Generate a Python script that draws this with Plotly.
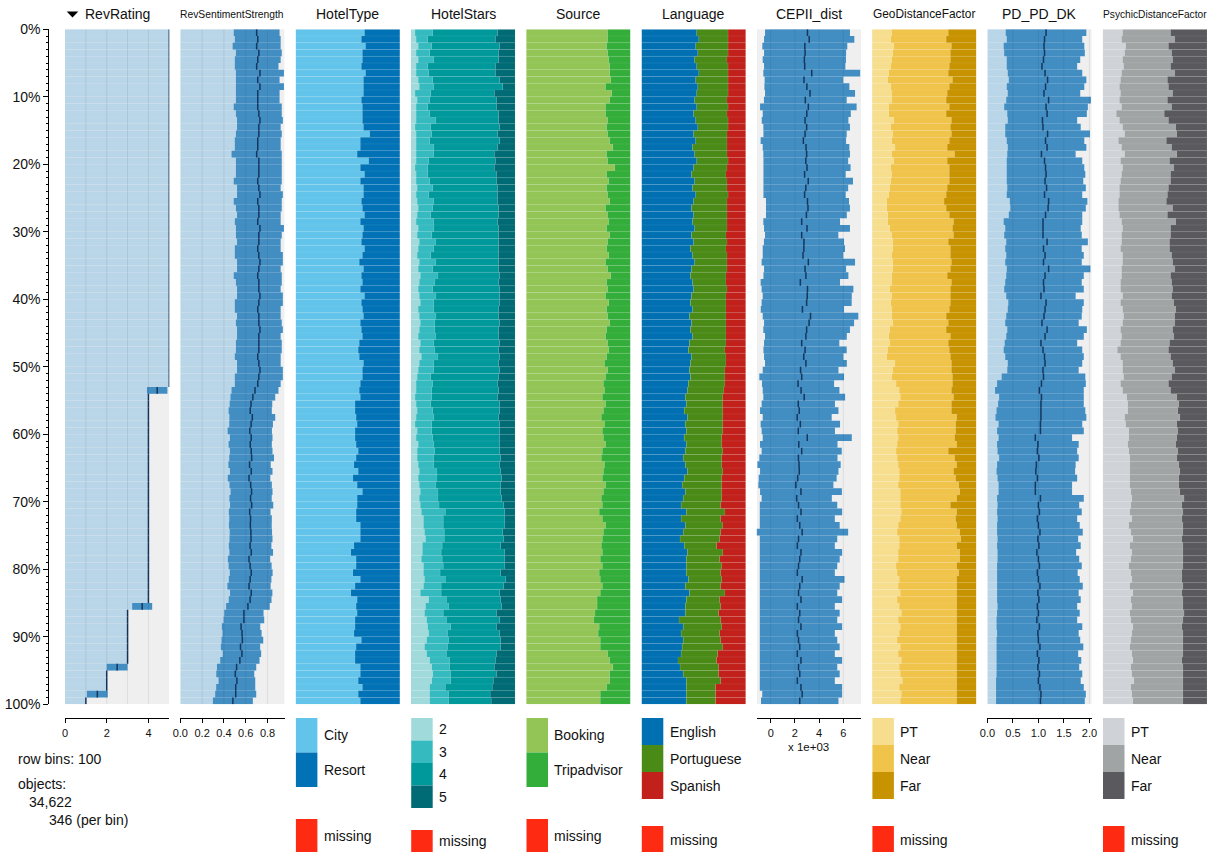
import plotly.graph_objects as go

W, H = 1211, 852
NBINS = 100

# ---------------- data (per row bin, top = 0%) ----------------
rev_rating_mean = [
    5.0, 5.0, 5.0, 5.0, 5.0, 5.0, 5.0, 5.0, 5.0, 5.0,
    5.0, 5.0, 5.0, 5.0, 5.0, 5.0, 5.0, 5.0, 5.0, 5.0,
    5.0, 5.0, 5.0, 5.0, 5.0, 5.0, 5.0, 5.0, 5.0, 5.0,
    5.0, 5.0, 5.0, 5.0, 5.0, 5.0, 5.0, 5.0, 5.0, 5.0,
    5.0, 5.0, 5.0, 5.0, 5.0, 5.0, 5.0, 5.0, 5.0, 5.0,
    5.0, 5.0, 5.0, 4.42, 4.0, 4.0, 4.0, 4.0, 4.0, 4.0,
    4.0, 4.0, 4.0, 4.0, 4.0, 4.0, 4.0, 4.0, 4.0, 4.0,
    4.0, 4.0, 4.0, 4.0, 4.0, 4.0, 4.0, 4.0, 4.0, 4.0,
    4.0, 4.0, 4.0, 4.0, 4.0, 3.7, 3.0, 3.0, 3.0, 3.0,
    3.0, 3.0, 3.0, 3.0, 2.5, 2.0, 2.0, 2.0, 1.55, 1.0]
rev_rating_sd = [
    0, 0, 0, 0, 0, 0, 0, 0, 0, 0,
    0, 0, 0, 0, 0, 0, 0, 0, 0, 0,
    0, 0, 0, 0, 0, 0, 0, 0, 0, 0,
    0, 0, 0, 0, 0, 0, 0, 0, 0, 0,
    0, 0, 0, 0, 0, 0, 0, 0, 0, 0,
    0, 0, 0, 0.49, 0, 0, 0, 0, 0, 0,
    0, 0, 0, 0, 0, 0, 0, 0, 0, 0,
    0, 0, 0, 0, 0, 0, 0, 0, 0, 0,
    0, 0, 0, 0, 0, 0.48, 0, 0, 0, 0,
    0, 0, 0, 0, 0.5, 0, 0, 0, 0.5, 0]

sent_mean = [
    0.70, 0.71, 0.70, 0.72, 0.71, 0.70, 0.73, 0.71, 0.73, 0.71,
    0.71, 0.71, 0.72, 0.73, 0.72, 0.72, 0.71, 0.71, 0.70, 0.72,
    0.72, 0.72, 0.71, 0.72, 0.73, 0.71, 0.72, 0.72, 0.71, 0.73,
    0.72, 0.72, 0.71, 0.72, 0.73, 0.72, 0.71, 0.72, 0.72, 0.73,
    0.72, 0.71, 0.72, 0.72, 0.73, 0.72, 0.72, 0.72, 0.71, 0.72,
    0.73, 0.72, 0.71, 0.685, 0.665, 0.648, 0.641, 0.66, 0.649, 0.637,
    0.65, 0.641, 0.65, 0.654, 0.635, 0.65, 0.63, 0.645, 0.653, 0.644,
    0.654, 0.636, 0.644, 0.642, 0.647, 0.648, 0.64, 0.65, 0.63, 0.64,
    0.65, 0.64, 0.63, 0.65, 0.64, 0.62, 0.583, 0.583, 0.557, 0.566,
    0.569, 0.552, 0.565, 0.546, 0.516, 0.504, 0.519, 0.508, 0.508, 0.482]
sent_sd = [
    0.21, 0.21, 0.22, 0.21, 0.21, 0.20, 0.22, 0.20, 0.22, 0.20,
    0.20, 0.22, 0.21, 0.21, 0.20, 0.21, 0.21, 0.21, 0.23, 0.21,
    0.21, 0.21, 0.22, 0.20, 0.21, 0.22, 0.21, 0.20, 0.21, 0.22,
    0.21, 0.20, 0.21, 0.22, 0.21, 0.20, 0.22, 0.21, 0.20, 0.21,
    0.22, 0.21, 0.20, 0.21, 0.21, 0.20, 0.21, 0.21, 0.21, 0.20,
    0.21, 0.22, 0.21, 0.215, 0.205, 0.195, 0.198, 0.21, 0.20, 0.203,
    0.195, 0.198, 0.195, 0.205, 0.194, 0.195, 0.195, 0.194, 0.192, 0.194,
    0.198, 0.191, 0.195, 0.196, 0.194, 0.197, 0.195, 0.20, 0.194, 0.197,
    0.196, 0.195, 0.198, 0.194, 0.196, 0.20, 0.18, 0.186, 0.176, 0.179,
    0.191, 0.18, 0.176, 0.18, 0.18, 0.174, 0.168, 0.179, 0.188, 0.183]

# HotelType shares (%)
type_city = [
    66, 63, 67, 64, 64, 63, 67, 65, 65, 65,
    63, 64, 64, 64, 65, 71, 62, 62, 59, 70,
    62, 66, 62, 65, 65, 63, 64, 66, 62, 65,
    64, 63, 66, 64, 61, 65, 63, 64, 62, 66,
    63, 64, 65, 62, 63, 64, 61, 60, 61, 65,
    64, 64, 62, 61, 62, 57, 57, 58, 59, 57,
    57, 58, 60, 58, 56, 60, 55, 59, 64, 59,
    59, 58, 58, 62, 62, 62, 56, 53, 58, 58,
    55, 62, 57, 53, 59, 58, 59, 57, 57, 56,
    63, 58, 57, 57, 62, 62, 60, 64, 60, 62]

# HotelStars shares (%); 5 stars = remainder
stars_2 = [
    4, 5, 7, 5, 7, 5, 5, 7, 8, 4,
    6, 5, 5, 5, 4, 5, 5, 5, 5, 5,
    4, 5, 5, 6, 5, 6, 7, 6, 5, 7,
    6, 8, 7, 6, 8, 7, 9, 8, 7, 8,
    9, 7, 8, 9, 8, 7, 9, 8, 10, 8,
    7, 6, 5, 5, 4, 5, 6, 5, 4, 6,
    5, 7, 6, 6, 7, 8, 7, 8, 9, 8,
    9, 10, 12, 12, 13, 14, 11, 11, 10, 12,
    12, 13, 12, 9, 17, 14, 13, 15, 16, 17,
    15, 13, 15, 18, 20, 21, 20, 18, 18, 18]
stars_3 = [
    17, 11, 13, 13, 15, 11, 12, 14, 14, 15,
    12, 11, 13, 19, 15, 15, 13, 17, 17, 12,
    12, 11, 13, 15, 12, 16, 14, 13, 17, 15,
    14, 16, 15, 13, 16, 14, 17, 15, 14, 16,
    13, 15, 16, 14, 15, 17, 13, 15, 16, 14,
    15, 13, 16, 15, 16, 14, 15, 17, 16, 14,
    16, 15, 17, 16, 15, 17, 18, 16, 17, 18,
    18, 23, 19, 19, 19, 18, 19, 18, 20, 19,
    16, 20, 17, 20, 17, 22, 18, 19, 22, 18,
    21, 22, 19, 19, 17, 17, 18, 15, 18, 18]
stars_4 = [
    62, 65, 65, 66, 62, 65, 64, 64, 66, 61,
    64, 66, 66, 60, 66, 63, 67, 61, 58, 64,
    64, 66, 64, 62, 66, 61, 63, 65, 61, 62,
    64, 60, 62, 65, 60, 63, 59, 61, 64, 61,
    63, 62, 60, 62, 61, 60, 63, 61, 59, 62,
    63, 65, 62, 64, 63, 66, 64, 62, 65, 65,
    64, 63, 62, 64, 63, 61, 62, 62, 60, 61,
    62, 57, 59, 59, 56, 57, 56, 61, 60, 59,
    58, 58, 60, 56, 52, 51, 51, 51, 44, 50,
    50, 51, 48, 44, 43, 44, 41, 45, 40, 41]

# Source shares (%); Tripadvisor = remainder
source_booking = [
    78, 78, 77, 78, 79, 80, 80, 81, 76, 82,
    80, 76, 76, 78, 77, 78, 80, 83, 77, 78,
    85, 77, 79, 77, 78, 80, 76, 78, 79, 77,
    80, 78, 77, 79, 76, 78, 81, 77, 78, 76,
    79, 77, 78, 80, 77, 76, 78, 79, 77, 75,
    78, 76, 74, 75, 73, 76, 74, 72, 75, 73,
    74, 76, 73, 72, 75, 74, 73, 76, 74, 72,
    73, 70, 73, 76, 74, 73, 72, 73, 71, 73,
    70, 71, 73, 71, 68, 68, 66, 65, 70, 69,
    71, 71, 78, 80, 83, 80, 80, 77, 71, 71]

# Language shares (%); Spanish = remainder
lang_english = [
    53, 55, 52, 54, 51, 53, 55, 52, 54, 53,
    51, 53, 50, 52, 54, 50, 52, 49, 51, 53,
    50, 48, 51, 49, 52, 50, 48, 50, 49, 51,
    48, 50, 47, 49, 51, 48, 47, 49, 50, 48,
    47, 49, 46, 48, 47, 49, 46, 45, 48, 47,
    46, 47, 45, 44, 42, 43, 41, 44, 42, 43,
    41, 43, 42, 40, 42, 44, 41, 39, 42, 40,
    38, 43, 38, 42, 40, 37, 41, 44, 43, 43,
    43, 45, 42, 46, 43, 42, 42, 36, 40, 38,
    40, 39, 38, 35, 37, 40, 43, 43, 43, 43]
lang_portuguese = [
    30, 28, 31, 29, 31, 30, 28, 31, 29, 30,
    31, 30, 32, 31, 29, 32, 30, 33, 31, 30,
    32, 33, 31, 33, 31, 32, 34, 32, 33, 31,
    33, 32, 34, 33, 31, 34, 34, 32, 32, 33,
    34, 32, 35, 33, 34, 32, 35, 35, 33, 34,
    34, 33, 35, 35, 36, 35, 37, 34, 36, 35,
    36, 34, 36, 37, 35, 34, 36, 38, 35, 37,
    38, 37, 38, 36, 36, 38, 31, 34, 32, 34,
    33, 32, 34, 34, 32, 34, 32, 40, 37, 37,
    36, 39, 35, 37, 37, 34, 33, 28, 28, 28]

# CEPII_dist (thousands)
cepii_mean_k = [
    3.04, 3.18, 2.82, 2.84, 2.78, 2.81, 3.39, 2.75, 2.99, 3.25,
    2.86, 3.11, 2.98, 2.84, 2.97, 2.84, 2.70, 2.92, 2.97, 2.90,
    3.00, 2.80, 3.10, 2.90, 2.80, 3.04, 3.08, 2.95, 2.56, 3.00,
    2.56, 2.75, 2.74, 2.67, 3.11, 2.84, 2.91, 2.45, 3.04, 3.02,
    2.97, 2.62, 3.29, 3.17, 2.97, 2.91, 2.56, 2.84, 2.73, 2.91,
    2.47, 2.56, 2.26, 2.51, 2.77, 2.28, 2.36, 2.19, 2.45, 2.28,
    3.02, 2.32, 2.56, 2.29, 2.34, 2.36, 2.23, 2.08, 2.50, 2.15,
    2.30, 2.50, 2.20, 2.40, 2.60, 2.30, 2.20, 2.50, 2.40, 2.30,
    2.20, 2.60, 2.40, 2.30, 2.50, 2.20, 2.40, 2.30, 2.50, 2.20,
    2.30, 2.40, 2.20, 2.50, 2.30, 2.40, 2.20, 2.50, 2.60, 2.40]
cepii_sd_k = [
    3.51, 3.73, 3.51, 3.39, 3.44, 3.36, 4.00, 3.25, 3.51, 3.72,
    3.42, 3.99, 3.64, 3.58, 3.58, 3.44, 3.53, 3.58, 3.58, 3.50,
    3.60, 3.40, 3.70, 3.50, 3.40, 3.43, 3.47, 3.34, 3.17, 3.55,
    3.03, 3.31, 3.40, 3.33, 3.86, 3.39, 3.51, 3.28, 3.79, 3.68,
    3.72, 3.44, 3.95, 3.72, 3.58, 3.38, 3.11, 3.44, 3.28, 3.38,
    3.13, 3.50, 2.98, 3.17, 3.38, 3.03, 3.24, 2.85, 3.28, 3.03,
    3.68, 3.20, 3.31, 3.23, 3.44, 3.24, 3.22, 3.10, 3.38, 2.90,
    3.20, 3.40, 3.10, 3.30, 3.80, 3.20, 3.10, 3.40, 3.30, 3.20,
    3.10, 3.50, 3.30, 3.20, 3.40, 3.10, 3.30, 3.20, 3.40, 3.10,
    3.20, 3.30, 3.10, 3.40, 3.20, 3.30, 3.10, 3.40, 3.30, 3.20]

# GeoDistanceFactor shares (%); Far = remainder
geo_pt = [
    19, 18, 21, 20, 19, 18, 16, 15, 18, 19,
    19, 16, 16, 21, 18, 20, 19, 22, 19, 21,
    18, 19, 18, 17, 16, 14, 14, 15, 15, 17,
    19, 20, 20, 19, 20, 20, 19, 19, 17, 19,
    18, 19, 19, 20, 17, 16, 17, 15, 14, 22,
    20, 19, 23, 26, 27, 25, 22, 23, 25, 24,
    25, 24, 23, 24, 25, 26, 26, 25, 27, 27,
    27, 28, 27, 25, 24, 26, 26, 25, 25, 23,
    24, 26, 25, 27, 24, 26, 28, 25, 27, 26,
    24, 27, 25, 28, 26, 27, 29, 26, 28, 27]
geo_near = [
    54, 53, 55, 55, 56, 56, 57, 62, 56, 53,
    52, 58, 55, 55, 57, 56, 55, 50, 60, 51,
    56, 55, 56, 55, 55, 55, 57, 59, 63, 60,
    59, 53, 55, 56, 56, 55, 53, 57, 58, 56,
    57, 55, 52, 53, 54, 59, 56, 59, 61, 54,
    56, 58, 54, 50, 51, 51, 54, 58, 55, 56,
    54, 57, 50, 55, 56, 52, 54, 58, 57, 54,
    48, 53, 53, 56, 60, 59, 55, 59, 59, 58,
    59, 55, 56, 54, 57, 55, 53, 56, 54, 55,
    57, 54, 56, 53, 55, 54, 52, 55, 53, 54]

# PD_PD_DK
pd_mean = [
    1.15, 1.12, 1.11, 1.12, 1.10, 1.07, 1.13, 1.18, 1.14, 1.11,
    1.20, 1.15, 1.17, 1.08, 1.09, 1.18, 1.14, 1.17, 1.06, 1.12,
    1.14, 1.15, 1.13, 1.16, 1.12, 1.20, 1.19, 1.14, 1.09, 1.09,
    1.09, 1.17, 1.10, 1.13, 1.10, 1.20, 1.13, 1.10, 1.11, 1.05,
    1.15, 1.13, 1.11, 1.07, 1.17, 1.13, 1.05, 1.09, 1.12, 1.13,
    1.09, 1.10, 1.06, 1.02, 1.06, 1.05, 1.05, 1.05, 1.04, 1.04,
    0.94, 0.99, 0.98, 1.01, 0.96, 0.95, 0.98, 0.94, 0.94, 1.04,
    1.00, 1.02, 0.98, 1.00, 1.03, 0.99, 1.01, 0.97, 1.00, 1.02,
    0.98, 1.00, 1.03, 0.99, 1.01, 0.98, 1.00, 0.97, 1.02, 0.99,
    1.00, 1.03, 0.98, 1.01, 0.99, 1.02, 1.00, 1.03, 1.05, 1.04]
pd_sd = [
    0.79, 0.74, 0.79, 0.79, 0.72, 0.69, 0.73, 0.76, 0.76, 0.71,
    0.83, 0.82, 0.78, 0.68, 0.74, 0.83, 0.76, 0.77, 0.67, 0.74,
    0.76, 0.77, 0.75, 0.77, 0.74, 0.76, 0.74, 0.72, 0.77, 0.74,
    0.76, 0.80, 0.75, 0.76, 0.75, 0.82, 0.76, 0.75, 0.78, 0.68,
    0.74, 0.73, 0.74, 0.72, 0.78, 0.76, 0.71, 0.77, 0.77, 0.73,
    0.70, 0.82, 0.87, 0.87, 0.83, 0.84, 0.87, 0.89, 0.82, 0.85,
    0.72, 0.80, 0.78, 0.78, 0.77, 0.77, 0.78, 0.72, 0.72, 0.85,
    0.80, 0.83, 0.78, 0.81, 0.84, 0.79, 0.82, 0.77, 0.80, 0.83,
    0.79, 0.81, 0.84, 0.80, 0.82, 0.78, 0.81, 0.79, 0.84, 0.80,
    0.82, 0.85, 0.80, 0.83, 0.81, 0.84, 0.83, 0.86, 0.88, 0.87]

# PsychicDistanceFactor shares (%); Far = remainder
psy_pt = [
    19, 18, 22, 21, 19, 20, 18, 17, 16, 17,
    16, 18, 13, 16, 19, 21, 15, 18, 21, 17,
    19, 18, 17, 16, 16, 15, 15, 16, 18, 19,
    18, 18, 17, 19, 19, 18, 18, 17, 17, 19,
    17, 19, 20, 19, 17, 18, 17, 14, 17, 19,
    19, 20, 17, 19, 23, 24, 24, 21, 22, 25,
    25, 24, 25, 26, 26, 26, 26, 26, 27, 28,
    27, 26, 28, 25, 27, 29, 26, 28, 27, 25,
    27, 28, 26, 29, 27, 28, 26, 27, 29, 28,
    27, 26, 28, 29, 27, 28, 30, 27, 28, 29]
psy_near = [
    46, 51, 41, 45, 48, 45, 51, 45, 47, 50,
    46, 48, 46, 47, 51, 50, 46, 48, 50, 47,
    49, 47, 48, 47, 46, 46, 52, 46, 52, 46,
    47, 46, 47, 47, 48, 51, 47, 49, 50, 47,
    51, 51, 49, 50, 50, 50, 47, 49, 48, 48,
    50, 46, 46, 46, 48, 49, 48, 53, 49, 47,
    46, 46, 47, 45, 47, 48, 47, 47, 47, 50,
    49, 51, 48, 52, 50, 47, 51, 49, 50, 52,
    49, 48, 51, 47, 50, 49, 52, 50, 47, 49,
    50, 51, 49, 47, 50, 49, 47, 50, 49, 48]

titles = ["RevRating", "RevSentimentStrength", "HotelType", "HotelStars", "Source",
          "Language", "CEPII_dist", "GeoDistanceFactor", "PD_PD_DK", "PsychicDistanceFactor"]
title_sizes = [14, 10.3, 14, 14, 14, 14, 14, 11.9, 14, 10.2]

for arr in [rev_rating_mean, rev_rating_sd, sent_mean, sent_sd, type_city, stars_2, stars_3,
            stars_4, source_booking, lang_english, lang_portuguese, cepii_mean_k, cepii_sd_k,
            geo_pt, geo_near, pd_mean, pd_sd, psy_pt, psy_near]:
    assert len(arr) == NBINS, len(arr)

# ---------------- styling ----------------
FONT = "Liberation Sans, Arial, Helvetica, sans-serif"
TXT = "#111111"
LIGHT, BAND, MEANC, BG = "#B9D5E8", "#428EC3", "#14365F", "#EFEFEF"
SEP = "rgba(255,255,255,0.12)"
MISSING = "#FF2A12"

TOP, BOT = 29.3, 704.3
X0, PITCH, PW = 65.0, 115.3, 104.3
AXIS_Y = 718.3


def fx(x):
    return x / W


def fy(y):
    return 1 - y / H


lefts = [X0 + PITCH * i for i in range(10)]
centers = [k + 0.5 for k in range(NBINS)]

fig = go.Figure()
shapes, annots, layout = [], [], {}


def axname(i):
    return "x" if i == 0 else "x%d" % (i + 1)


def axkey(i):
    return "xaxis" if i == 0 else "xaxis%d" % (i + 1)


def hbar(i, length, base, color, sep=True):
    fig.add_trace(go.Bar(
        orientation="h", y=centers, x=length, base=base, width=1.0,
        marker=dict(color=color, line=dict(color=SEP, width=0.5 if sep else 0)),
        xaxis=axname(i), yaxis="y", hoverinfo="skip", showlegend=False))


def numeric(i, mean, sd, rng, tickvals, ticktext, grid):
    xa = axname(i)
    shapes.append(dict(type="rect", xref=xa, yref="y", x0=rng[0], x1=rng[1], y0=0, y1=NBINS,
                       fillcolor=BG, line=dict(width=0), layer="below"))
    hbar(i, mean, [0.0] * NBINS, LIGHT)
    hbar(i, [2 * s for s in sd], [m - s for m, s in zip(mean, sd)], BAND, sep=False)
    xs, ys = [], []
    for k, m in enumerate(mean):
        xs += [m, m, None]
        ys += [k, k + 1, None]
    fig.add_trace(go.Scatter(x=xs, y=ys, mode="lines", line=dict(color=MEANC, width=1.5),
                             xaxis=xa, yaxis="y", hoverinfo="skip", showlegend=False))
    for g in grid:
        shapes.append(dict(type="line", xref=xa, yref="y", x0=g, x1=g, y0=0, y1=NBINS,
                           line=dict(color="rgba(0,0,0,0.08)", width=1), layer="above"))
    layout[axkey(i)] = dict(
        domain=[fx(lefts[i]), fx(lefts[i] + PW)], range=rng, anchor="free", position=fy(AXIS_Y),
        showline=True, linecolor="black", linewidth=1, ticks="outside", ticklen=4, tickwidth=1,
        tickcolor="black", tickmode="array", tickvals=tickvals, ticktext=ticktext,
        tickfont=dict(size=11, color=TXT, family=FONT), showgrid=False, zeroline=False,
        fixedrange=True, automargin=False)


def categorical(i, parts, colors, labels, block_h, miss_top):
    base = [0.0] * NBINS
    for part, col in zip(parts, colors):
        hbar(i, part, list(base), col)
        base = [b + p for b, p in zip(base, part)]
    hbar(i, [100 - b for b in base], list(base), colors[-1])
    layout[axkey(i)] = dict(domain=[fx(lefts[i]), fx(lefts[i] + PW)], range=[0, 100],
                            visible=False, fixedrange=True, automargin=False)
    y = 718.0
    for col, lab in zip(colors, labels):
        shapes.append(dict(type="rect", xref="paper", yref="paper",
                           x0=fx(lefts[i] + 0.3), x1=fx(lefts[i] + 21.8),
                           y0=fy(y + block_h), y1=fy(y), fillcolor=col, line=dict(width=0)))
        annots.append(dict(text=lab, x=fx(lefts[i] + 26), y=fy(y + block_h / 2),
                           xref="paper", yref="paper", xanchor="left", yanchor="middle",
                           showarrow=False, font=dict(size=14, color=TXT, family=FONT)))
        y += block_h
    shapes.append(dict(type="rect", xref="paper", yref="paper",
                       x0=fx(lefts[i] + 0.3), x1=fx(lefts[i] + 21.8),
                       y0=fy(miss_top + block_h), y1=fy(miss_top), fillcolor=MISSING,
                       line=dict(width=0)))
    annots.append(dict(text="missing", x=fx(lefts[i] + 26), y=fy(miss_top + block_h / 2),
                       xref="paper", yref="paper", xanchor="left", yanchor="middle",
                       showarrow=False, font=dict(size=14, color=TXT, family=FONT)))


# numeric panels
numeric(0, rev_rating_mean, rev_rating_sd, [0, 5.0], [0, 2, 4], ["0", "2", "4"], [1, 2, 3, 4])
numeric(1, sent_mean, sent_sd, [0, 0.956], [0, 0.2, 0.4, 0.6, 0.8],
        ["0.0", "0.2", "0.4", "0.6", "0.8"], [0.2, 0.4, 0.6, 0.8])
numeric(6, cepii_mean_k, cepii_sd_k, [-1.149, 7.47], [0, 2, 4, 6], ["0", "2", "4", "6"],
        [0, 2, 4, 6])
numeric(8, pd_mean, pd_sd, [0, 2.045], [0, 0.5, 1.0, 1.5, 2.0],
        ["0.0", "0.5", "1.0", "1.5", "2.0"], [0.5, 1.0, 1.5, 2.0])

# categorical panels
categorical(2, [type_city], ["#62C4EA", "#0072B5"], ["City", "Resort"], 34.5, 819)
categorical(3, [stars_2, stars_3, stars_4], ["#A0DADB", "#35BABF", "#00999B", "#006B75"],
            ["2", "3", "4", "5"], 22.5, 830)
categorical(4, [source_booking], ["#92C556", "#34AE3A"], ["Booking", "Tripadvisor"], 34.5, 819)
categorical(5, [lang_english, lang_portuguese], ["#0070B3", "#4A8A17", "#C1201B"],
            ["English", "Portuguese", "Spanish"], 27, 826)
categorical(7, [geo_pt, geo_near], ["#F6DE8E", "#F0C34A", "#C79300"], ["PT", "Near", "Far"], 27, 826)
categorical(9, [psy_pt, psy_near], ["#CFD2D6", "#A0A4A5", "#59595E"], ["PT", "Near", "Far"], 27, 826)

# titles
for i, (t, s) in enumerate(zip(titles, title_sizes)):
    annots.append(dict(text=t, x=fx(lefts[i] + PW / 2), y=fy(14.5), xref="paper", yref="paper",
                       xanchor="center", yanchor="middle", showarrow=False,
                       font=dict(size=s, color=TXT, family=FONT)))
# sort indicator triangle
shapes.append(dict(type="path", xref="paper", yref="paper", fillcolor="black", line=dict(width=0),
                   path="M %f %f L %f %f L %f %f Z" % (fx(66.7), fy(11.6), fx(78.3), fy(11.6),
                                                      fx(72.5), fy(17.6))))

# axis multiplier
annots.append(dict(text="x 1e+03", x=fx(lefts[6] + PW / 2), y=fy(746.7), xref="paper",
                   yref="paper", xanchor="center", yanchor="middle", showarrow=False,
                   font=dict(size=11.5, color=TXT, family=FONT)))

# info text
for txt, x, y in [("row bins: 100", 15.7, 759.3), ("objects:", 15.7, 784.3),
                  ("34,622", 27.3, 801.7), ("346 (per bin)", 47.3, 820.0)]:
    annots.append(dict(text=txt, x=fx(x), y=fy(y), xref="paper", yref="paper", xanchor="left",
                       yanchor="middle", showarrow=False, font=dict(size=14, color=TXT, family=FONT)))

layout["yaxis"] = dict(
    domain=[fy(BOT), fy(TOP)], range=[NBINS, 0], anchor="free", position=fx(48.3),
    showline=True, linecolor="black", linewidth=1, ticks="outside", ticklen=5, tickwidth=1,
    tickcolor="black", tickmode="linear", tick0=0, dtick=10, ticksuffix="%",
    tickfont=dict(size=14, color=TXT, family=FONT),
    minor=dict(ticks="outside", ticklen=2.5, tickwidth=1, tickcolor="black", tick0=0, dtick=1,
               showgrid=False),
    showgrid=False, zeroline=False, fixedrange=True, automargin=False)

fig.update_layout(width=W, height=H, autosize=False,
                  margin=dict(l=0, r=0, t=0, b=0, pad=0, autoexpand=False),
                  paper_bgcolor="white", plot_bgcolor="white", barmode="overlay",
                  showlegend=False, font=dict(family=FONT, color=TXT),
                  shapes=shapes, annotations=annots, **layout)

# remove the browser's default page margin so the figure sits at the window origin
fig.write_html("out.html",
               config={"displayModeBar": False, "staticPlot": True},
               post_script="document.body.style.margin='0px';"
                           "document.body.style.overflow='hidden';")
